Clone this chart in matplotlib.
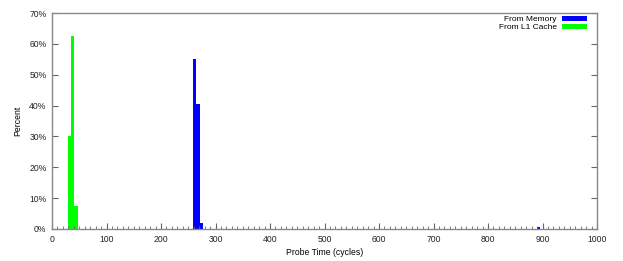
import matplotlib
matplotlib.use("Agg")
import matplotlib.pyplot as plt
from matplotlib.ticker import MultipleLocator, FuncFormatter

# histogram bins (left edge, cycles) and percent
mem_bins = [259, 265, 271, 890]
mem_pct = [55.0, 40.5, 2.0, 0.5]
l1_bins = [29, 35, 41]
l1_pct = [30.0, 62.5, 7.5]

bin_width = 6
xticks = list(range(0, 1001, 100))
yticks = list(range(0, 71, 10))

plt.rcParams['font.family'] = ['Liberation Sans', 'DejaVu Sans']

fig = plt.figure(figsize=(6.23, 2.61), dpi=100)
ax = fig.add_axes([52 / 623, 1 - 229 / 261, 545 / 623, 216 / 261])

ax.bar(mem_bins, mem_pct, width=bin_width, align="edge", color="#0000ff",
	   label="From Memory", linewidth=0)
ax.bar(l1_bins, l1_pct, width=bin_width, align="edge", color="#00ff00",
	   label="From L1 Cache", linewidth=0)

ax.set_xlim(0, 1000)
ax.set_ylim(0, 70)
ax.set_xticks(xticks)
ax.set_yticks(yticks)
ax.xaxis.set_minor_locator(MultipleLocator(10))
ax.yaxis.set_major_formatter(FuncFormatter(lambda v, p: "%d%%" % v))

for s in ax.spines.values():
	s.set_color("#888888")
	s.set_linewidth(1.0)
ax.tick_params(which="both", direction="in", top=False, right=True,
			   color="#666666", labelsize=6.2, labelcolor="#222222")
ax.tick_params(which="major", length=4, pad=4)
ax.tick_params(which="minor", length=2)
ax.tick_params(axis="y", which="minor", left=False, right=False)

ax.set_xlabel("Probe Time (cycles)", fontsize=6.2, labelpad=3)
ax.set_ylabel("Percent", fontsize=6.2, labelpad=5)

ax.legend(loc="upper right", bbox_to_anchor=(1 - 10 / 545, 1 - 3 / 216),
		  frameon=False, fontsize=6, markerfirst=False,
		  handlelength=3.0, handleheight=0.5, labelspacing=0.05,
		  borderaxespad=0, borderpad=0, handletextpad=0.6)

fig.savefig("out.png", dpi=100)
